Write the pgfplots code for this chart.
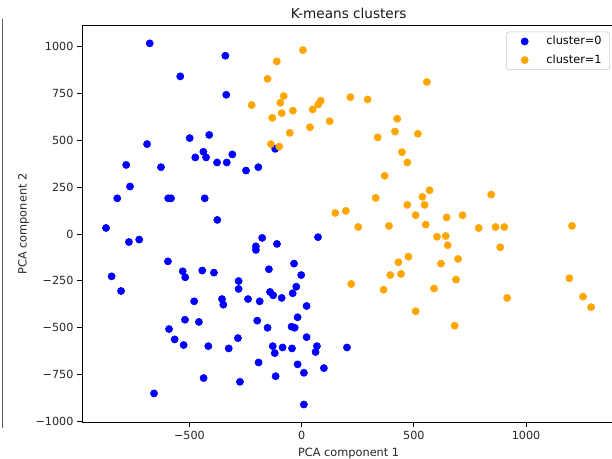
\documentclass[border=0pt]{standalone}
\usepackage{fontspec}
\setmainfont{DejaVu Sans}
\usepackage{pgfplots}
\pgfplotsset{compat=1.18}

\definecolor{clusterblue}{RGB}{0,0,255}
\definecolor{clusterorange}{RGB}{255,165,0}
\definecolor{legendframe}{RGB}{204,204,204}
\definecolor{cellborder}{RGB}{90,90,90}

\begin{document}
\begin{tikzpicture}
% page: 459pt x 344.25pt
\useasboundingbox (0,0) rectangle (459pt,344.25pt);
\clip (0,0) rectangle (459pt,344.25pt);
\fill[white] (0,0) rectangle (459pt,344.25pt);
% thin frame line on the left
\draw[cellborder, line width=0.7pt] (2.2pt,330pt) -- (2.2pt,23pt);
\begin{axis}[
  at={(61.5pt,27.5pt)}, anchor=south west,
  scale only axis, width=400pt, height=297.45pt,
  xmin=-979, xmax=1398, ymin=-1004, ymax=1110,
  axis line style={black, line width=0.6pt},
  tick align=outside, tick pos=left,
  major tick length=3.6pt,
  every tick/.style={black, line width=0.6pt},
  xtick={-500,0,500,1000},
  xticklabels={−500,0,500,1000},
  ytick={-1000,-750,-500,-250,0,250,500,750,1000},
  yticklabels={−1000,−750,−500,−250,0,250,500,750,1000},
  tick label style={font=\fontsize{8.4}{10}\selectfont, text=black!85},
  xticklabel style={inner sep=2.6pt},
  yticklabel style={inner sep=2.6pt},
  title={K-means clusters},
  title style={at={(axis description cs:0.5,0.9992)}, anchor=base,
    font=\fontsize{10.2}{12}\selectfont, text=black!90},
  xlabel={PCA component 1},
  xlabel style={at={(axis description cs:0.5,-0.085)}, anchor=base,
    font=\fontsize{8.5}{10}\selectfont, text=black!85},
  ylabel={PCA component 2},
  ylabel style={at={(axis description cs:-0.1037,0.5)}, anchor=base,
    font=\fontsize{8.5}{10}\selectfont, text=black!85},
  legend style={at={(axis description cs:0.9899,0.9849)}, anchor=north east,
    draw=legendframe, rounded corners=2pt, fill=white, fill opacity=0.8,
    text opacity=1, font=\fontsize{8.5}{10}\selectfont,
    inner xsep=6pt, inner ysep=3.1pt, row sep=6pt, column sep=12pt,
    nodes={inner sep=0pt, text height=6.2pt, text depth=1.8pt}},
  legend cell align=left,
  legend image code/.code={%
    \path[draw=none, fill=none] (0pt,-1pt) rectangle (12pt,1pt);
    \draw[#1, fill opacity=1, draw opacity=1, opacity=1]
      plot coordinates {(7.7pt,0pt)};},
]
\addplot[only marks, mark=*, mark size=2.7pt, color=clusterblue,
  mark options={draw=clusterblue, fill=clusterblue}] coordinates {
(-677,1016) (-340,950) (-541,840) (-336,742) (-689,479) (-499,511)
(-412,528) (-438,438) (-474,408) (-426,408) (-377,381) (-334,381)
(-309,424) (-248,338) (-193,356) (-118,454) (-627,356) (-782,368)
(-765,253) (-822,190) (-595,190) (-582,190) (-432,190) (-376,75)
(-872,32) (-770,-43) (-724,-30) (-847,-226) (-805,-304) (-596,-146)
(-530,-199) (-519,-231) (-443,-195) (-391,-206) (-479,-359) (-355,-347)
(-349,-377) (-281,-251) (-281,-293) (-239,-347) (-187,-359) (-176,-21)
(-204,-66) (-204,-85) (-110,-53) (-146,-188) (-34,-158) (-2,-219)
(-24,-281) (-40,-316) (-141,-309) (-127,-327) (-89,-341) (22,-384)
(-18,-444) (-45,-494) (-31,-500) (22,-550) (68,-598) (62,-629)
(202,-605) (-520,-457) (-458,-469) (-591,-507) (-566,-562) (-526,-592)
(-416,-598) (-325,-610) (-284,-555) (-198,-462) (-152,-500) (-129,-598)
(-120,-635) (-85,-605) (-43,-610) (-18,-695) (10,-740) (99,-715)
(-192,-685) (-116,-758) (-437,-768) (-275,-788) (-658,-850) (10,-909)
(73,-17)
};
\addlegendentry{cluster=0}
\addplot[only marks, mark=*, mark size=2.7pt, color=clusterorange,
  mark options={draw=clusterorange, fill=clusterorange}] coordinates {
(6,980) (-111,920) (-152,827) (-223,687) (-80,735) (-95,699)
(-89,644) (-131,619) (-39,657) (49,664) (37,569) (-53,539)
(-137,479) (-100,466) (558,810) (217,729) (294,717) (85,710)
(74,690) (125,601) (426,614) (339,515) (416,546) (518,534)
(447,436) (471,381) (370,310) (330,192) (570,233) (538,198)
(548,155) (471,155) (845,210) (150,112) (197,123) (508,100)
(646,88) (717,100) (252,37) (389,43) (553,50) (789,32)
(864,37) (903,37) (1205,43) (603,-15) (642,-11) (651,-60)
(885,-71) (476,-121) (431,-151) (621,-158) (697,-133) (395,-219)
(443,-213) (688,-243) (221,-267) (365,-297) (590,-291) (1193,-236)
(916,-341) (1254,-334) (1290,-390) (508,-412) (682,-489)
};
\addlegendentry{cluster=1}
\end{axis}
\end{tikzpicture}
\end{document}
